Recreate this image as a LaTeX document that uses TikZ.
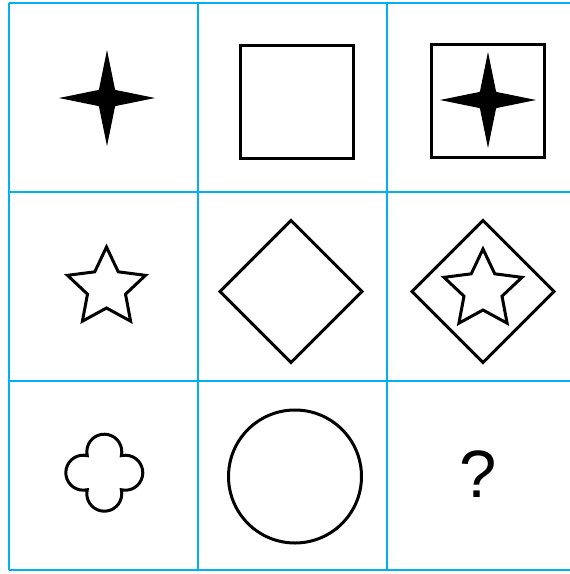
\documentclass[tikz,border=0pt]{standalone}
\usepackage{fontspec}
\setmainfont{Liberation Sans}
\usepackage{tikz}
\usetikzlibrary{calc}
\definecolor{gridblue}{RGB}{0,176,240}

\begin{document}
\begin{tikzpicture}[
	x=1pt, y=-1pt,
	gridline/.style={draw=gridblue, line width=2.3pt},
	shapeline/.style={draw=black, line width=3pt, line join=miter},
	solidstar/.style={fill=black}
	]
	\useasboundingbox (0,0) rectangle (570,574);
	% grid
	\foreach \gx in {9,198,387}
		\draw[gridline] (\gx,3) -- (\gx,570);
	\foreach \gy in {3,192,381,570}
		\draw[gridline] (9,\gy) -- (570,\gy);
	% centres of the figures
	\coordinate (spark1) at (107,98);
	\coordinate (box1) at (297,102);
	\coordinate (box2) at (487.5,100.5);
	\coordinate (spark2) at (488,100);
	\coordinate (star1) at (106.5,288);
	\coordinate (rhomb1) at (291,291.5);
	\coordinate (rhomb2) at (483,291.5);
	\coordinate (star2) at (483,290);
	\coordinate (clover) at (104.3,472.7);
	\coordinate (ring) at (295,476.5);
	% row 1
	\fill[solidstar, shift={(spark1)}] (0:48) \foreach \a in {90,180,270} {-- (\a-45:11.5) -- (\a:48)} -- (-45:11.5) -- cycle;
	\draw[shapeline] ($(box1)+(-56.5,-56.5)$) rectangle ($(box1)+(56.5,56.5)$);
	\draw[shapeline] ($(box2)+(-56.5,-56.5)$) rectangle ($(box2)+(56.5,56.5)$);
	\fill[solidstar, shift={(spark2)}] (0:48) \foreach \a in {90,180,270} {-- (\a-45:11.5) -- (\a:48)} -- (-45:11.5) -- cycle;
	% row 2
	\draw[shapeline, shift={(star1)}] (-90:41) \foreach \k in {0,...,3} {-- (72*\k-54:20) -- (72*\k-18:41)} -- (234:20) -- cycle;
	\draw[shapeline, shift={(rhomb1)}] (0,-71) -- (71,0) -- (0,71) -- (-71,0) -- cycle;
	\draw[shapeline, shift={(rhomb2)}] (0,-71) -- (71,0) -- (0,71) -- (-71,0) -- cycle;
	\draw[shapeline, shift={(star2)}] (-90:41) \foreach \k in {0,...,3} {-- (72*\k-54:20) -- (72*\k-18:41)} -- (234:20) -- cycle;
	% row 3
	\draw[shapeline, shift={(clover)}] (17.05,-17.05) \foreach \k in {0,...,3} {arc[start angle=13.04-90*\k, delta angle=-206.08, radius=17.5]} -- cycle;
	\draw[shapeline] (ring) circle[radius=66.5];
	\node[inner sep=0pt, font=\fontsize{67}{67}\selectfont] (query) at (478.3,474.5) {?};
\end{tikzpicture}
\end{document}
